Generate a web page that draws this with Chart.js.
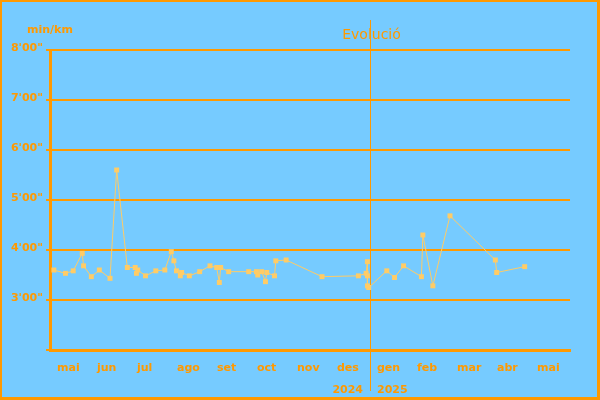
<!DOCTYPE html>
<html><head><meta charset="utf-8">
<script src="https://cdn.jsdelivr.net/npm/chart.js@4/dist/chart.umd.min.js"></script>
<style>html,body{margin:0;padding:0;background:#76cbff;overflow:hidden}canvas{display:block}</style>
</head><body>
<canvas id="c" width="600" height="400"></canvas>
<script>
const monthLabels = ['mai','jun','jul','ago','set','oct','nov','des','gen','feb','mar','abr','mai'];
const yearLabels = ['2024','2025'];
const paceTicks = [120,180,240,300,360,420,480];
const runDates = [
'2024-05-04','2024-05-13','2024-05-19','2024-05-26','2024-05-27',
'2024-06-02','2024-06-08','2024-06-16','2024-06-21','2024-06-29',
'2024-07-05','2024-07-06','2024-07-07','2024-07-13','2024-07-21','2024-07-28',
'2024-08-02','2024-08-04','2024-08-06','2024-08-09','2024-08-10','2024-08-16','2024-08-24',
'2024-09-01','2024-09-06','2024-09-08','2024-09-09','2024-09-15','2024-09-30',
'2024-10-06','2024-10-07','2024-10-10','2024-10-13','2024-10-14','2024-10-20','2024-10-21','2024-10-29',
'2024-11-25',
'2024-12-23','2024-12-29','2024-12-30','2024-12-30','2024-12-30','2024-12-31',
'2025-01-14','2025-01-20','2025-01-27',
'2025-02-09','2025-02-10','2025-02-17',
'2025-03-01',
'2025-04-05','2025-04-06','2025-04-27'
];
const paceSeconds = [
216,212,215,236,221,
208,216,206,336,219,
219,212,216,209,215,216,
238,227,215,209,213,209,214,
221,219,201,219,214,214,
214,210,214,202,213,209,227,228,
208,
209,212,226,209,197,195,
215,207,221,
208,258,197,
281,
228,213,220
];

const ORANGE = '#ff9900';
const BLUE = '#76cbff';
const DOT = '#ffcc66';
const startYear = 2024, startMonth = 4;
function monthPos(d){
  const [y,m,day] = d.split('-').map(Number);
  const idx = (y-startYear)*12 + (m-1) - startMonth;
  const dim = new Date(y, m, 0).getDate();
  return idx + (day-1)/dim;
}
function fmtPace(s){
  if (s === 120) return '';
  const m = Math.floor(s/60), r = s%60;
  return m + "'" + String(r).padStart(2,'0') + '"';
}
const boldFont = {family:'DejaVu Sans', size:11, weight:'bold'};

const decor = {
  id:'decor',
  beforeDraw(chart){
    const c = chart.ctx;
    c.save();
    c.fillStyle = BLUE;
    c.fillRect(0,0,chart.width,chart.height);
    c.restore();
  },
  beforeDatasetsDraw(chart){
    const c = chart.ctx, xs = chart.scales.x;
    const xp = Math.round(xs.getPixelForValue(8)) + 0.5;
    c.save();
    c.strokeStyle = ORANGE; c.lineWidth = 1;
    c.beginPath(); c.moveTo(xp, 20); c.lineTo(xp, 391); c.stroke();
    c.restore();
  },
  afterDraw(chart){
    const c = chart.ctx, xs = chart.scales.x;
    const xp = Math.round(xs.getPixelForValue(8));
    c.save();
    c.fillStyle = ORANGE;
    c.fillRect(0,0,600,2);
    c.fillRect(0,0,2,400);
    c.fillRect(597,0,3,400);
    c.fillRect(0,397,600,3);
    c.font = '14px "DejaVu Sans"';
    c.textAlign = 'center'; c.textBaseline = 'alphabetic';
    c.fillText('Evolució', 371.5, 39);
    c.font = 'bold 11px "DejaVu Sans"';
    c.textAlign = 'left';
    c.fillText('min/km', 27, 33);
    c.textAlign = 'right';
    c.fillText(yearLabels[0], xp - 7, 393);
    c.textAlign = 'left';
    c.fillText(yearLabels[1], xp + 7, 393);
    c.restore();
  }
};

new Chart(document.getElementById('c'), {
  type:'line',
  data:{datasets:[{
    data: runDates.map((d,i)=>({x:monthPos(d), y:paceSeconds[i]})),
    borderColor: DOT, backgroundColor: DOT, borderWidth:1,
    pointStyle:'rect', pointRadius:3.5, pointBorderWidth:0, pointBackgroundColor: DOT,
    tension:0, fill:false
  }]},
  options:{
    responsive:false, animation:false, devicePixelRatio:1,
    layout:{padding:{top:50,right:30,left:0,bottom:0}},
    plugins:{legend:{display:false}, tooltip:{enabled:false}, title:{display:false}},
    scales:{
      x:{
        type:'linear', min:0, max:13,
        afterFit(s){ s.height = 50; },
        afterBuildTicks(s){ s.ticks = monthLabels.map((_,i)=>({value:i})); },
        grid:{display:false, drawTicks:false},
        border:{display:true, color:ORANGE, width:3},
        ticks:{callback:(v,i)=>monthLabels[i], align:'start', labelOffset:7, padding:12,
               color:ORANGE, font:boldFont, autoSkip:false, maxRotation:0, minRotation:0}
      },
      y:{
        min:120, max:480,
        afterFit(s){ s.width = 50; },
        afterBuildTicks(s){ s.ticks = paceTicks.map(v=>({value:v})); },
        grid:{color:ORANGE, lineWidth:2, tickLength:4, drawTicks:true},
        border:{display:true, color:ORANGE, width:3},
        ticks:{callback:(v)=>fmtPace(v), color:ORANGE, font:boldFont, padding:3, labelOffset:-2}
      }
    }
  },
  plugins:[decor]
});
</script>
</body></html>
